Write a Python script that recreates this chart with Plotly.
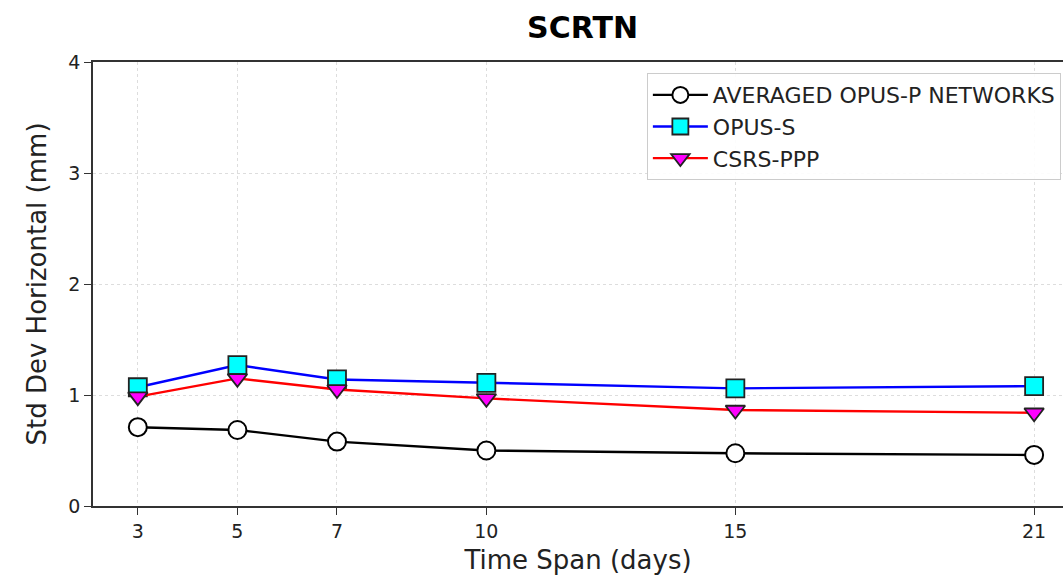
import plotly.graph_objects as go

time_span = [3, 5, 7, 10, 15, 21]
averaged_opus_p = [0.71, 0.685, 0.58, 0.50, 0.475, 0.46]
opus_s = [1.07, 1.27, 1.14, 1.11, 1.06, 1.08]
csrs_ppp = [0.985, 1.15, 1.05, 0.97, 0.865, 0.84]
y_ticks = [0, 1, 2, 3, 4]

fig = go.Figure()
fig.add_trace(go.Scatter(
    x=time_span, y=averaged_opus_p, mode="lines+markers",
    name="AVERAGED OPUS-P NETWORKS",
    line=dict(color="black", width=2.4),
    marker=dict(symbol="circle", size=18, color="white", line=dict(color="black", width=2)),
))
fig.add_trace(go.Scatter(
    x=time_span, y=opus_s, mode="lines+markers", name="OPUS-S",
    line=dict(color="blue", width=2.4),
    marker=dict(symbol="square", size=18, color="cyan", line=dict(color="#222222", width=1.8)),
))
fig.add_trace(go.Scatter(
    x=time_span, y=csrs_ppp, mode="lines+markers", name="CSRS-PPP",
    line=dict(color="red", width=2.4),
    marker=dict(symbol="triangle-down", size=17, color="magenta", line=dict(color="#222222", width=1.8)),
))

fig.update_layout(
    width=1063, height=582,
    paper_bgcolor="white", plot_bgcolor="white",
    margin=dict(l=93, r=0, t=62, b=76, autoexpand=False),
    font=dict(family="DejaVu Sans", color="#222222"),
    title=dict(text="<b>SCRTN</b>", x=0.548, xanchor="center", y=0.953, yanchor="middle",
               font=dict(size=30, color="black")),
    showlegend=True,
    legend=dict(x=0.571, xanchor="left", y=0.975, yanchor="top",
                bgcolor="rgba(255,255,255,0.9)", bordercolor="#cccccc", borderwidth=1,
                font=dict(size=22, color="#222222"), itemwidth=55),
)
fig.update_xaxes(
    range=[2.1, 21.58], tickvals=time_span, ticktext=[str(v) for v in time_span],
    showline=True, linecolor="#333333", linewidth=1.5, mirror=True,
    ticks="outside", ticklen=7, tickwidth=1.2, tickcolor="#333333",
    showgrid=True, gridcolor="#dddddd", griddash="dot", gridwidth=1,
    zeroline=False, tickfont=dict(size=19), automargin=False,
    title=dict(text="Time Span (days)", font=dict(size=26), standoff=10),
)
fig.update_yaxes(
    range=[0, 4], tickvals=y_ticks,
    showline=True, linecolor="#333333", linewidth=1.5,
    ticks="outside", ticklen=7, tickwidth=1.2, tickcolor="#333333",
    showgrid=True, gridcolor="#dddddd", griddash="dot", gridwidth=1,
    zeroline=False, tickfont=dict(size=19), automargin=False,
    title=dict(text="Std Dev Horizontal (mm)", font=dict(size=26), standoff=14),
)

fig.write_html(
    "out.html",
    config={"displayModeBar": False},
    post_script="document.body.style.margin='0';document.body.style.overflow='hidden';",
)
